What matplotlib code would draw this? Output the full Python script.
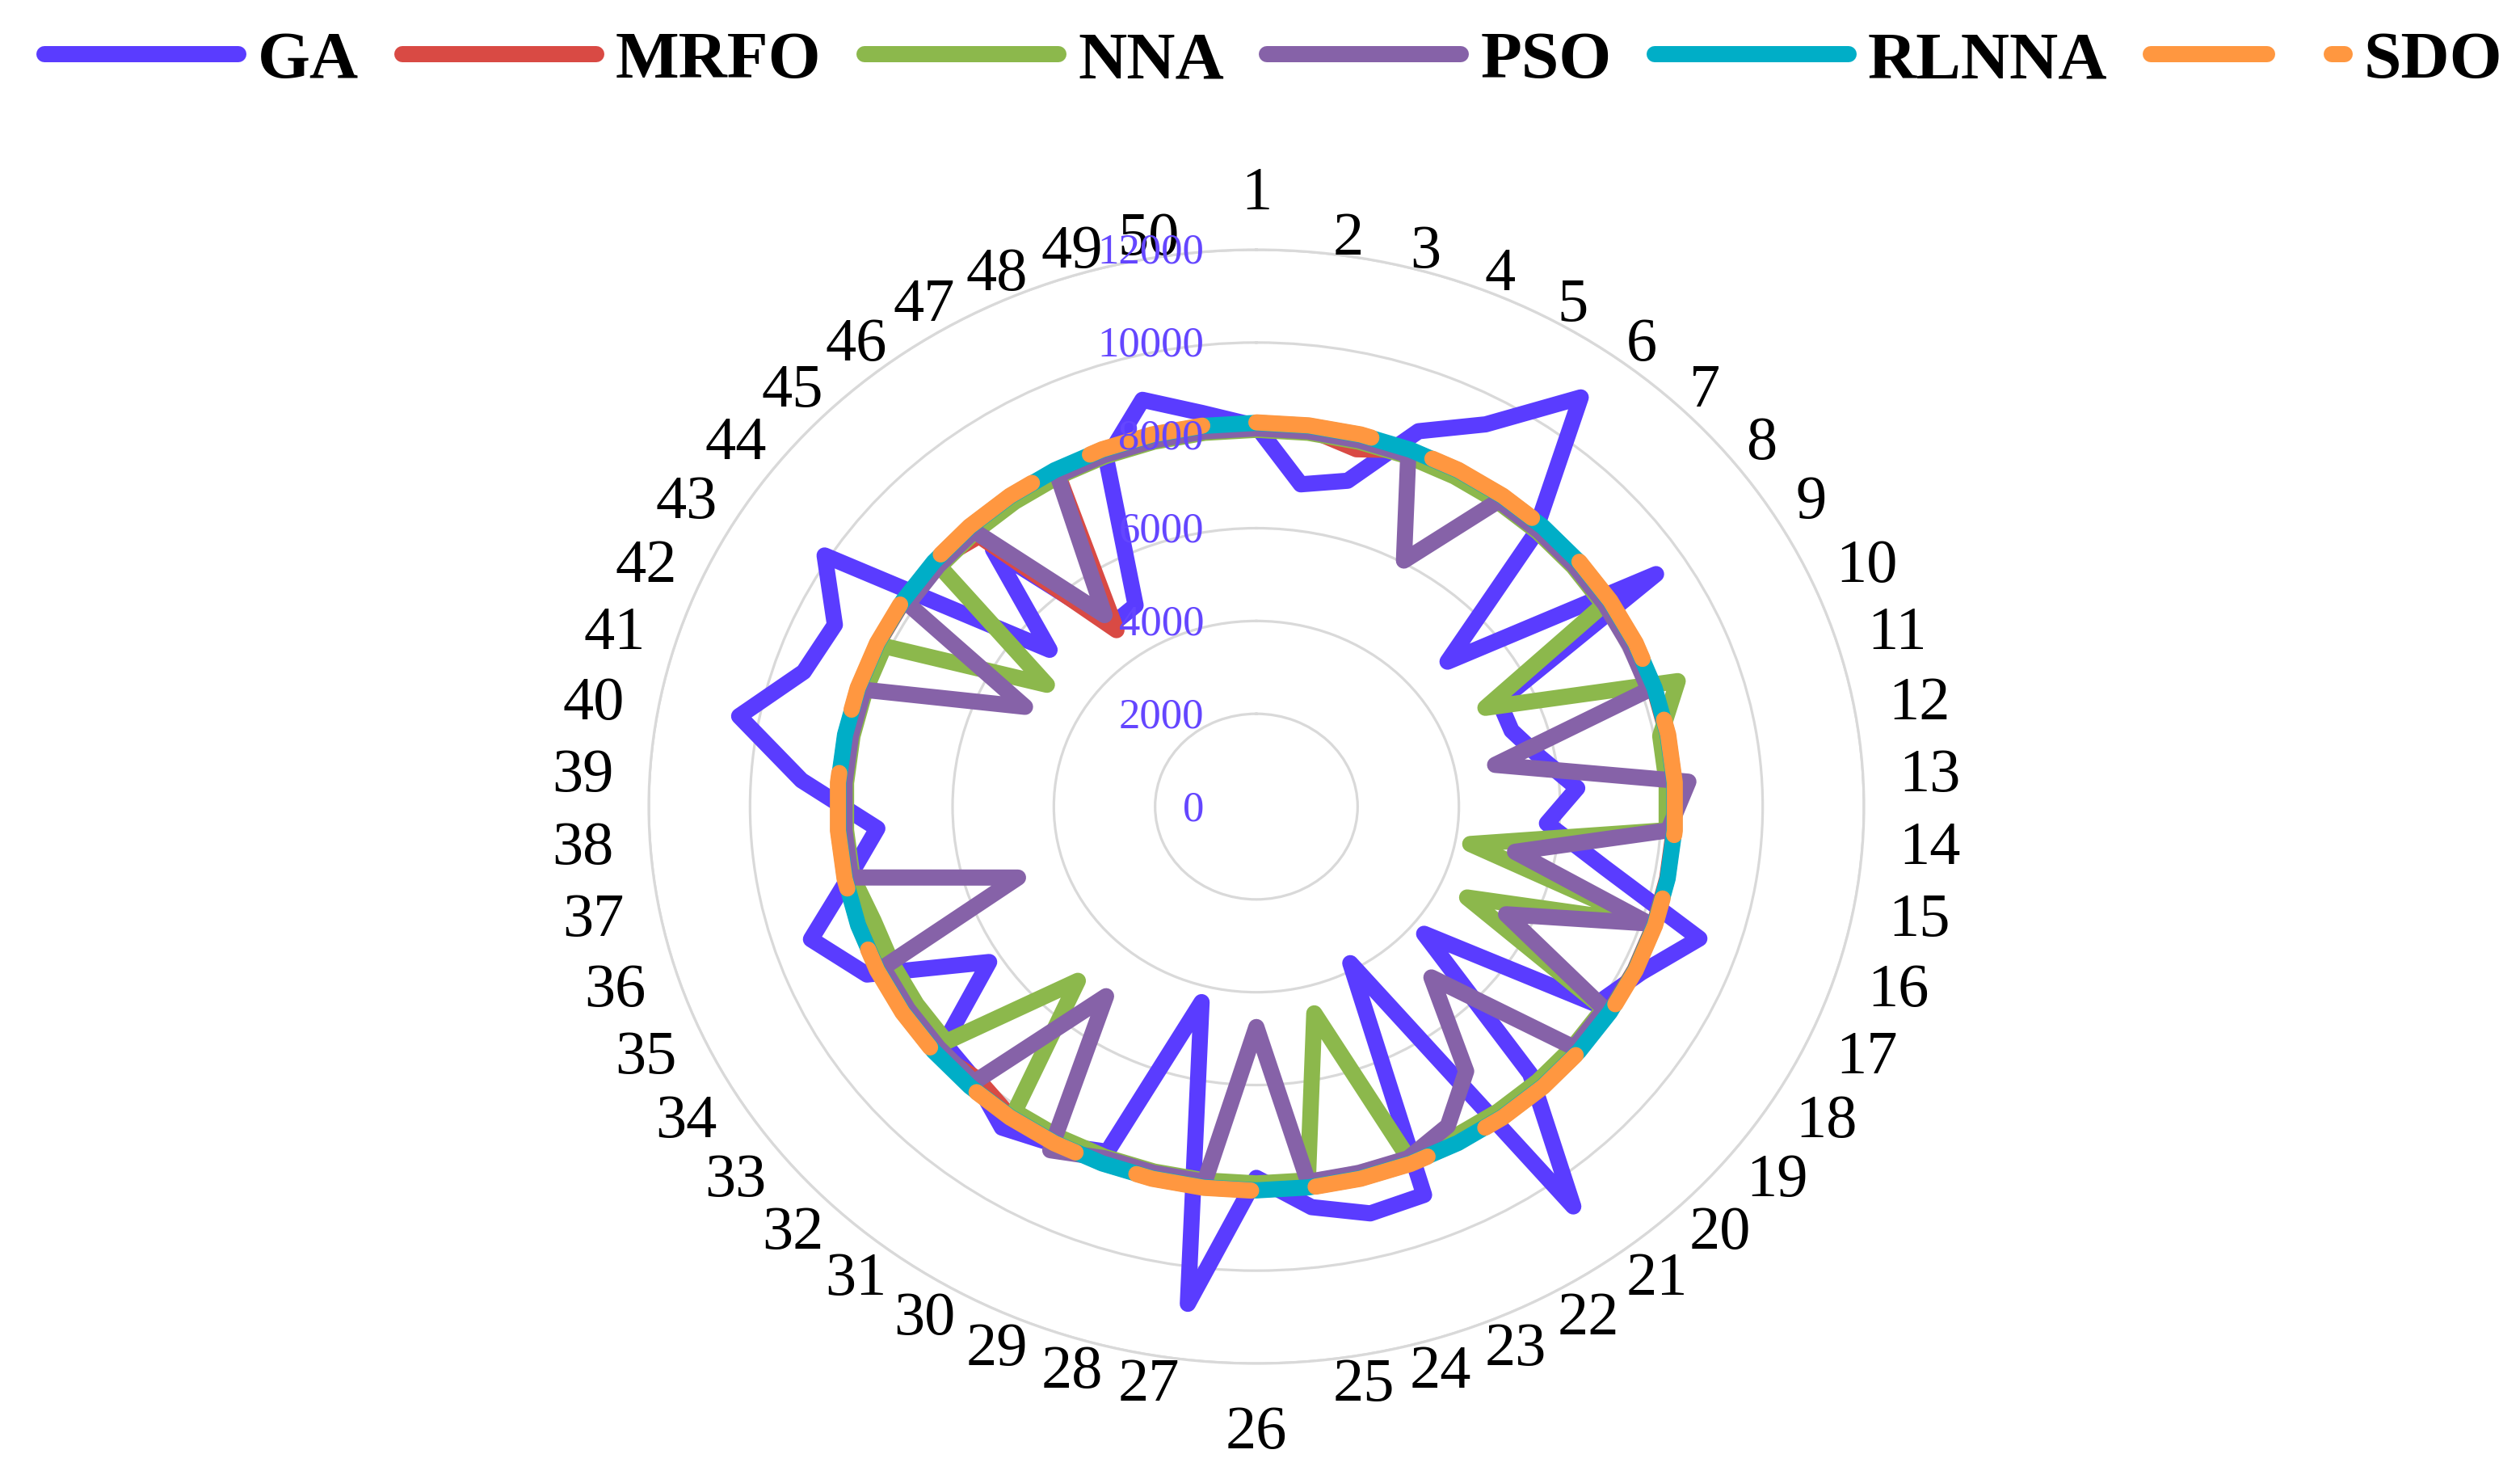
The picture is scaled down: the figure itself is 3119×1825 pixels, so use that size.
import matplotlib
matplotlib.use("Agg")
import matplotlib.pyplot as plt
import matplotlib.transforms as mtransforms
from matplotlib.font_manager import FontProperties
import numpy as np

# ---------------- data ----------------
categories = [str(i) for i in range(1, 51)]

GA = [8200, 7000, 7250, 8700, 9400, 10900, 8000, 4900, 9350, 5300,
      5300, 5700, 6350, 5750, 7000, 9200, 8400, 7950, 4300, 7900,
      10650, 3850, 9000, 9050, 8700, 8000, 10800, 4350, 8000, 8300,
      8550, 8100, 8000, 6250, 8500, 9250, 8200, 7500, 9000, 10400,
      9400, 9200, 10100, 5300, 7600, 4850, 4950, 8050, 9050, 8550]

MRFO = [8260, 8200, 7950, 8260, 8260, 8260, 8260, 8260, 8260, 8260,
        8260, 8260, 8260, 8260, 8260, 8260, 8260, 8260, 8260, 8260,
        8260, 8260, 8260, 8260, 8260, 8260, 8260, 8260, 8260, 8260,
        8260, 8050, 8260, 8260, 8260, 8260, 8260, 8260, 8260, 8260,
        8260, 8260, 8260, 8260, 8000, 4700, 8100, 8260, 8260, 8260]

NNA = [8120, 8120, 8120, 8120, 8120, 8120, 8120, 8120, 8120, 5000,
       8750, 8120, 8120, 8120, 4300, 8120, 4600, 8120, 8120, 8120,
       8120, 8120, 8120, 4600, 8120, 8120, 8120, 8120, 8120, 8120,
       8120, 5150, 7950, 7950, 7950, 7950, 8120, 8120, 8120, 8120,
       8120, 8120, 4900, 8120, 8120, 8120, 8120, 8120, 8120, 8120]

PSO = [8150, 8150, 8150, 8150, 6050, 8150, 8150, 8150, 8150, 8150,
       8150, 4800, 8550, 8150, 5200, 8150, 5450, 8150, 8150, 5050,
       7050, 7850, 8150, 8150, 8150, 4750, 8150, 8150, 8150, 8450,
       5050, 8150, 8150, 8150, 8150, 4950, 8150, 8150, 8150, 8150,
       8150, 5050, 8150, 8150, 8150, 5100, 8150, 8150, 8150, 8150]

RLNNA = [8270] * 50
SDO = [8280] * 50

series_names = ["GA", "MRFO", "NNA", "PSO", "RLNNA", "SDO"]
series_values = [GA, MRFO, NNA, PSO, RLNNA, SDO]
series_colors = ["#5A3CFF", "#D94A44", "#8CB84C", "#8662A8", "#00AEC7", "#FF9740"]

r_ticks = [0, 2000, 4000, 6000, 8000, 10000, 12000]
r_tick_labels = ["0", "2000", "4000", "6000", "8000", "10000", "12000"]

# ---------------- figure ----------------
W, H = 3119, 1825
fig = plt.figure(figsize=(W / 100, H / 100), dpi=100)
fig.patch.set_facecolor("white")

cx, cy = 1555, 998      # centre, pixels from top-left
rx, ry = 752, 689       # pixel radii of the 12000 ring
ax = fig.add_axes([(cx - rx) / W, (H - cy - ry) / H, 2 * rx / W, 2 * ry / H],
                  projection="polar")
ax.set_aspect("auto")
ax.set_theta_zero_location("N")
ax.set_theta_direction(-1)
ax.set_ylim(0, 12000)
ax.set_xticks([])
ax.set_yticks(r_ticks[1:])
ax.set_yticklabels([])
ax.tick_params(length=0)
ax.yaxis.grid(True, color="#D9D9D9", linewidth=2.3)
ax.spines["polar"].set_color("#D9D9D9")
ax.spines["polar"].set_linewidth(2.3)
ax.set_axisbelow(True)

n = len(categories)
theta = np.deg2rad(np.arange(n) * 360.0 / n)
theta_c = np.append(theta, theta[0])

lw = 14.4
handles = []
for i, (name, vals, col) in enumerate(zip(series_names, series_values, series_colors)):
    v = np.append(np.array(vals, dtype=float), vals[0])
    ls = (0, (7.2, 4.0)) if name == "SDO" else "-"
    (ln,) = ax.plot(theta_c, v, color=col, lw=lw, linestyle=ls,
                    solid_joinstyle="round", solid_capstyle="round",
                    dash_joinstyle="round", dash_capstyle="round",
                    label=name, zorder=3 + i, clip_on=False)
    handles.append(ln)

# radial tick labels
tick_font = FontProperties(family="Liberation Serif", size=38)
tick_tr = mtransforms.offset_copy(ax.transData, fig=fig, x=-65, y=-17, units="dots")
for r, lab in zip(r_ticks, r_tick_labels):
    ax.text(0, r, lab, transform=tick_tr, ha="right", va="baseline",
            fontproperties=tick_font, color="#6446FF", zorder=20)

# category labels
cat_font = FontProperties(family="Liberation Serif", size=55)
half_h = 26
for k, lab in enumerate(categories):
    t = theta[k]
    s, c = np.sin(t), np.cos(t)
    if abs(s) < 1e-6:
        ha = "center"
        dx = 0
        if c > 0:
            dy = 50
        else:
            dy = -53 - 2 * half_h
    else:
        ha = "left" if s > 0 else "right"
        dx = 45 * s * s * (1 if s > 0 else -1)
        dy = half_h * c - half_h
    tr = mtransforms.offset_copy(ax.transData, fig=fig, x=dx, y=dy, units="dots")
    ax.text(t, 12000, lab, transform=tr, ha=ha, va="baseline",
            fontproperties=cat_font, color="black", clip_on=False)

# legend
leg_font = FontProperties(family="Liberation Serif", weight="bold", size=60)
fig.legend(handles, series_names, loc="center left",
           bbox_to_anchor=(55 / W, 1 - 76 / H), ncol=6, frameon=False,
           prop=leg_font, handlelength=2.88, handletextpad=0.29,
           columnspacing=0.64, borderpad=0, borderaxespad=0)

fig.savefig("out.png", dpi=100, facecolor="white")
